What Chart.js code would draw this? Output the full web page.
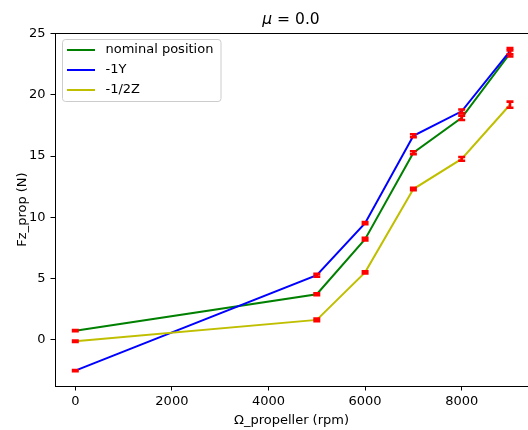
<!DOCTYPE html>
<html>
<head>
<meta charset="utf-8">
<script src="https://cdn.jsdelivr.net/npm/chart.js@4.4.1/dist/chart.umd.min.js"></script>
<style>
  html, body { margin: 0; padding: 0; background: #fff; }
  canvas { display: block; }
</style>
</head>
<body>
<canvas id="myChart" width="528" height="430"></canvas>
<script>
'use strict';

// data
const rpm = [0, 5000, 6000, 7000, 8000, 9000];
const nominalForce = [0.71, 3.69, 8.2, 15.27, 18.13, 23.4];
const minusYForce = [-2.56, 5.25, 9.51, 16.66, 18.66, 23.58];
const minusHalfZForce = [-0.16, 1.59, 5.48, 12.3, 14.77, 19.2];
const nominalErr = [0.05, 0.08, 0.1, 0.12, 0.18, 0.25];
const minusYErr = [0.05, 0.12, 0.08, 0.12, 0.15, 0.25];
const minusHalfZErr = [0.05, 0.1, 0.08, 0.1, 0.15, 0.25];
const seriesNames = ['nominal position', '-1Y', '-1/2Z'];
const xTicks = [0, 2000, 4000, 6000, 8000];
const yTicks = [0, 5, 10, 15, 20, 25];

const FONT = "'DejaVu Sans', sans-serif";
const chartCanvas = document.getElementById('myChart');

function toPoints(values) {
  const pts = [];
  for (let i = 0; i < rpm.length; i++) {
    pts.push({ x: rpm[i], y: values[i] });
  }
  return pts;
}

// red error bars, drawn right after each series like matplotlib does
const errorBars = {
  id: 'errorBars',
  afterDatasetDraw(chart, args) {
    const ds = chart.data.datasets[args.index];
    const errs = ds.errors;
    if (!errs) return;
    const ctx = chart.ctx;
    const xs = chart.scales.x;
    const ys = chart.scales.y;
    ctx.save();
    ctx.strokeStyle = '#ff0000';
    ctx.lineWidth = 2.6;
    for (let i = 0; i < ds.data.length; i++) {
      const p = ds.data[i];
      const px = xs.getPixelForValue(p.x);
      const top = ys.getPixelForValue(p.y + errs[i]);
      const bot = ys.getPixelForValue(p.y - errs[i]);
      ctx.beginPath();
      ctx.moveTo(px, top);
      ctx.lineTo(px, bot);
      ctx.moveTo(px - 3.5, top);
      ctx.lineTo(px + 3.5, top);
      ctx.moveTo(px - 3.5, bot);
      ctx.lineTo(px + 3.5, bot);
      ctx.stroke();
    }
    ctx.restore();
  }
};

// top spine, title, axis labels and the inset legend
const decorations = {
  id: 'decorations',
  afterDraw(chart) {
    const ctx = chart.ctx;
    const area = chart.chartArea;
    ctx.save();
    ctx.strokeStyle = '#000';
    ctx.lineWidth = 1;
    ctx.beginPath();
    ctx.moveTo(area.left, area.top + 0.5);
    ctx.lineTo(area.right, area.top + 0.5);
    ctx.stroke();

    ctx.fillStyle = '#000';
    ctx.textBaseline = 'middle';
    // title: italic mu then " = 0.0"
    const cx = 291;
    ctx.font = 'italic 15.5px ' + FONT;
    const muW = ctx.measureText('\u03bc').width;
    ctx.font = '15.5px ' + FONT;
    const restW = ctx.measureText(' = 0.0').width;
    let tx = cx - (muW + restW) / 2;
    ctx.textAlign = 'left';
    ctx.font = 'italic 15.5px ' + FONT;
    ctx.fillText('\u03bc', tx, 20);
    ctx.font = '15.5px ' + FONT;
    ctx.fillText(' = 0.0', tx + muW, 20);

    ctx.font = '13px ' + FONT;
    ctx.textAlign = 'center';
    ctx.fillText('\u03a9_propeller (rpm)', 291.5, 421);
    ctx.save();
    ctx.translate(23, 209.5);
    ctx.rotate(-Math.PI / 2);
    ctx.fillText('Fz_prop (N)', 0, 0);
    ctx.restore();

    // legend box
    const bx = 62.5, by = 39.5, bw = 158.5, bh = 62;
    ctx.beginPath();
    ctx.roundRect(bx, by, bw, bh, 3);
    ctx.fillStyle = 'rgba(255,255,255,0.8)';
    ctx.fill();
    ctx.strokeStyle = '#cccccc';
    ctx.lineWidth = 1;
    ctx.stroke();
    const datasets = chart.data.datasets;
    for (let i = 0; i < datasets.length; i++) {
      const rowY = 50 + i * 20;
      ctx.strokeStyle = datasets[i].borderColor;
      ctx.lineWidth = 2;
      ctx.beginPath();
      ctx.moveTo(67, rowY);
      ctx.lineTo(95, rowY);
      ctx.stroke();
      ctx.fillStyle = '#000';
      ctx.textAlign = 'left';
      ctx.fillText(seriesNames[i], 105.5, rowY);
    }
    ctx.restore();
  }
};

function createForceChart() {
  return new Chart(chartCanvas, {
    type: 'line',
    data: {
      datasets: [
        {
          label: seriesNames[0],
          data: toPoints(nominalForce),
          errors: nominalErr,
          borderColor: '#008000',
          borderWidth: 2,
          pointRadius: 0,
          order: 3,
        },
        {
          label: seriesNames[1],
          data: toPoints(minusYForce),
          errors: minusYErr,
          borderColor: '#0000ff',
          borderWidth: 2,
          pointRadius: 0,
          order: 2,
        },
        {
          label: seriesNames[2],
          data: toPoints(minusHalfZForce),
          errors: minusHalfZErr,
          borderColor: '#bfbf00',
          borderWidth: 2,
          pointRadius: 0,
          order: 1,
        },
      ],
    },
    options: {
      responsive: false,
      animation: false,
      devicePixelRatio: 1,
      layout: { padding: { top: 33, right: 0, left: 0, bottom: 0 } },
      plugins: {
        legend: { display: false },
        title: { display: false },
        tooltip: { enabled: false },
      },
      scales: {
        x: {
          type: 'linear',
          min: -420,
          max: 9373,
          afterBuildTicks(scale) {
            scale.ticks = xTicks.map(v => ({ value: v }));
          },
          afterFit(scale) {
            scale.height = 44;
          },
          grid: {
            drawOnChartArea: false,
            drawTicks: true,
            tickLength: 4.5,
            color: '#000',
          },
          border: { display: true, color: '#000', width: 1 },
          ticks: {
            padding: 3,
            color: '#000',
            maxRotation: 0,
            font: { family: FONT, size: 13 },
            callback: value => String(value),
          },
        },
        y: {
          min: -3.82,
          max: 25.07,
          afterBuildTicks(scale) {
            scale.ticks = yTicks.map(v => ({ value: v }));
          },
          afterFit(scale) {
            scale.width = 55;
          },
          grid: {
            drawOnChartArea: false,
            drawTicks: true,
            tickLength: 4.5,
            color: '#000',
          },
          border: { display: true, color: '#000', width: 1 },
          ticks: {
            padding: 5,
            color: '#000',
            font: { family: FONT, size: 13 },
            callback: value => String(value),
          },
        },
      },
    },
    plugins: [errorBars, decorations],
  });
}

createForceChart();
</script>
</body>
</html>
